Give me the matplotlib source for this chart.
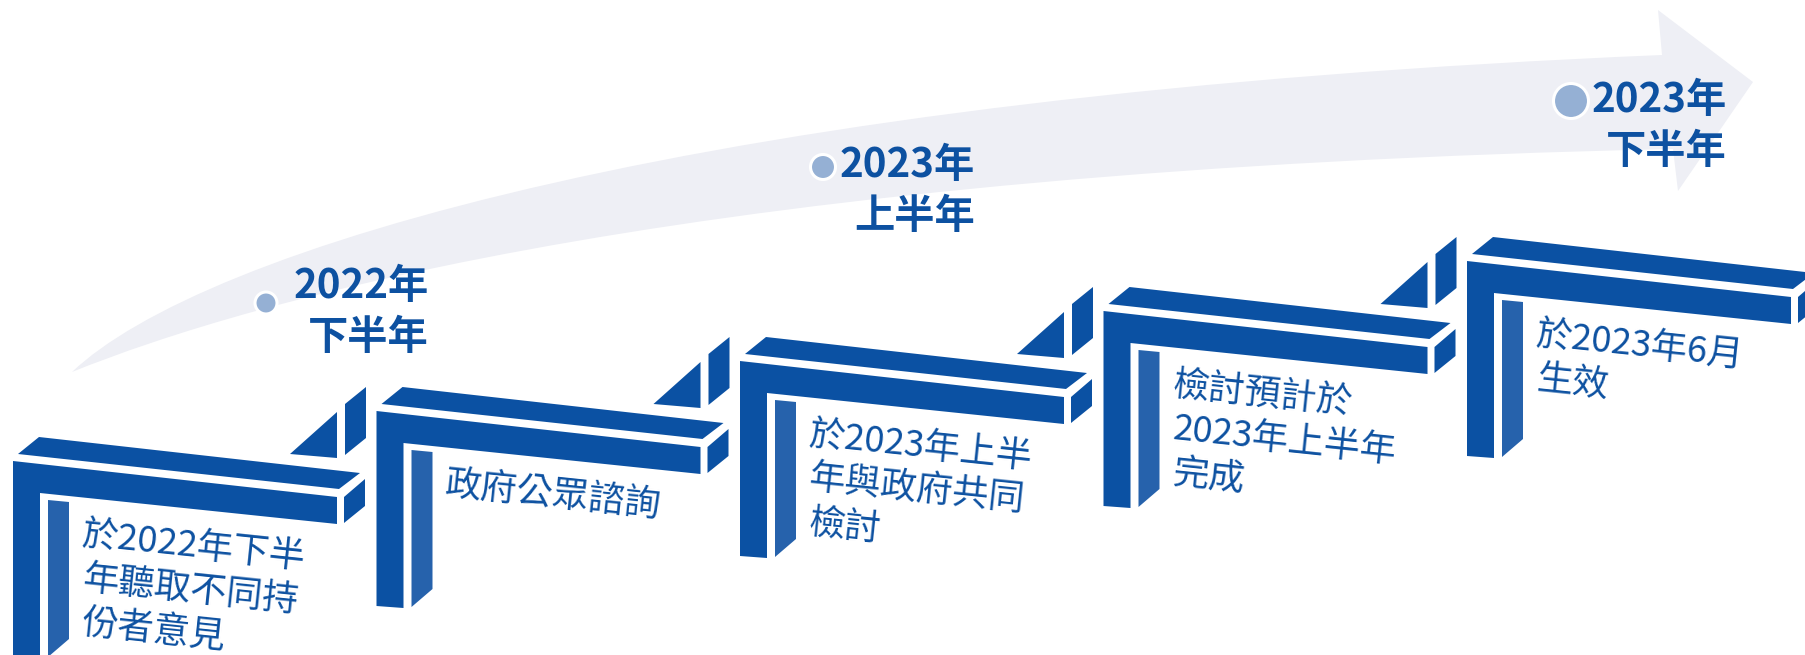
import matplotlib.pyplot as plt
from matplotlib.patches import Polygon, Circle, PathPatch
from matplotlib.path import Path

plt.rcParams['font.family'] = ['Noto Sans CJK TC', 'DejaVu Sans']

# 五個步驟的內容
step_texts = [
    "於2022年下半\n年聽取不同持\n份者意見",
    "政府公眾諮詢",
    "於2023年上半\n年與政府共同\n檢討",
    "檢討預計於\n2023年上半年\n完成",
    "於2023年6月\n生效",
]
# 箭頭上的時間點
milestone_labels = ["2022年\n下半年", "2023年\n上半年", "2023年\n下半年"]

# layout (pixel units, y down)
dot_xy = [(266, 303), (823, 167), (1571, 101)]
dot_r = [11, 12.5, 17.5]
label_xy = [(429, 266), (975, 145), (1727, 80)]
first_block = (13, 461)
block_step = (363.5, -50)
line_gap = 44

BLUE = '#0b51a3'
STRIP = '#2662ac'
TXT = '#0d51a1'
ARROW = '#eeeff5'
DOT = '#95b0d4'

# block pieces relative to the front top-left corner
top_face = [(26, -24), (347, 12), (326, 28), (5, -7)]
front = [(0, 0), (324, 36), (324, 63), (27, 32), (27, 197), (0, 195)]
end_face = [(331, 36), (352, 18), (352, 45), (331, 62)]
strip = [(35, 39), (56, 41), (56, 178), (35, 196)]
tri = [(277, -7), (324, -49), (324, -3)]
sliver = [(332, -57), (353, -74), (353, -23), (332, -6)]

fig = plt.figure(figsize=(18.06, 6.55), dpi=100)
ax = fig.add_axes([0, 0, 1, 1])
ax.set_xlim(0, 1806)
ax.set_ylim(655, 0)
ax.axis('off')

# curved arrow in the background
verts = [(72, 372), (200, 250), (700, 95), (1662, 55),
         (1658, 10), (1753, 82), (1678, 191), (1673, 149),
         (700, 170), (250, 300), (72, 372), (72, 372)]
codes = [Path.MOVETO, Path.CURVE4, Path.CURVE4, Path.CURVE4,
         Path.LINETO, Path.LINETO, Path.LINETO, Path.LINETO,
         Path.CURVE4, Path.CURVE4, Path.CURVE4, Path.CLOSEPOLY]
ax.add_patch(PathPatch(Path(verts, codes), facecolor=ARROW, edgecolor='none'))

# dots + labels
for (x, y), r, lab, (lx, ly) in zip(dot_xy, dot_r, milestone_labels, label_xy):
    ax.add_patch(Circle((x, y), r, facecolor=DOT, edgecolor='white', lw=2.2, zorder=3))
    ax.text(lx, ly, lab, ha='right', va='top', multialignment='right',
            fontsize=29, fontweight='bold', color=TXT, linespacing=1.3, zorder=4)


def shape(pts, ox, oy):
    return [(ox + px, oy + py) for px, py in pts]


for i, txt in enumerate(step_texts):
    ox = first_block[0] + block_step[0] * i
    oy = first_block[1] + block_step[1] * i
    for pts in (top_face, front, end_face):
        ax.add_patch(Polygon(shape(pts, ox, oy), closed=True, facecolor=BLUE,
                             edgecolor='none', zorder=5))
    ax.add_patch(Polygon(shape(strip, ox, oy), closed=True, facecolor=STRIP,
                         edgecolor='none', zorder=5))
    if i < len(step_texts) - 1:
        for pts in (tri, sliver):
            ax.add_patch(Polygon(shape(pts, ox, oy), closed=True, facecolor=BLUE,
                                 edgecolor='none', zorder=5))
    # each line placed on its own so the left edges stay vertical (sheared look)
    for j, line in enumerate(txt.split('\n')):
        ax.text(ox + 71, oy + 56 + j * line_gap, line, rotation=-6,
                rotation_mode='anchor', ha='left', va='top', fontsize=26,
                color=TXT, zorder=6)

fig.savefig('out.png', dpi=100)
